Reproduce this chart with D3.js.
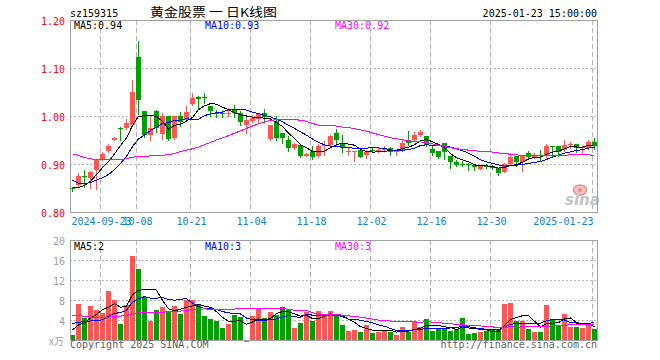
<!DOCTYPE html>
<html><head><meta charset="utf-8">
<script src="https://cdn.jsdelivr.net/npm/d3@7"></script>
<style>
body{margin:0;background:#fff}
svg{display:block}
text{font-family:"DejaVu Sans Mono","Liberation Mono",monospace;font-size:10px}
</style>
</head><body>
<svg id="chart" width="660" height="360"></svg>
<script>
// ---------- data ----------
const symbol = "sz159315";
const titleText = "黄金股票 一 日K线图";
const dateTime = "2025-01-23 15:00:00";

const opens  = [0.851,0.856,0.876,0.870,0.888,0.910,0.927,0.950,0.976,0.974,
                0.981,1.122,1.010,0.960,1.010,0.962,0.999,0.954,0.999,0.992,
                1.025,1.039,1.039,1.021,1.007,1.007,1.006,1.015,1.006,0.981,
                0.990,0.994,1.006,0.953,0.990,0.964,0.950,0.934,0.939,0.917,
                0.924,0.917,0.938,0.940,0.965,0.943,0.924,0.927,0.929,0.919,
                0.929,0.9285,0.929,0.933,0.924,0.930,0.950,0.950,0.960,0.959,
                0.932,0.927,0.943,0.917,0.904,0.900,0.901,0.897,0.890,0.896,
                0.896,0.891,0.884,0.900,0.917,0.905,0.922,0.916,0.919,0.917,
                0.938,0.9375,0.929,0.940,0.942,0.933,0.934,0.9465];
const highs  = [0.852,0.881,0.888,0.885,0.910,0.926,0.942,0.957,0.977,0.994,
                1.076,1.156,1.010,0.997,1.012,1.006,1.001,1.000,1.009,1.021,
                1.047,1.042,1.047,1.021,1.012,1.012,1.016,1.023,1.010,0.999,
                1.002,1.007,1.015,0.981,1.000,0.964,0.958,0.943,0.939,0.923,
                0.938,0.942,0.948,0.960,0.972,0.960,0.933,0.928,0.930,0.929,
                0.935,0.936,0.938,0.935,0.930,0.951,0.968,0.967,0.971,0.959,
                0.937,0.927,0.943,0.917,0.908,0.907,0.902,0.898,0.897,0.901,
                0.898,0.891,0.903,0.922,0.917,0.917,0.927,0.922,0.929,0.942,
                0.938,0.938,0.949,0.9465,0.942,0.937,0.951,0.9535];
const lows   = [0.843,0.855,0.853,0.851,0.848,0.909,0.926,0.949,0.951,0.973,
                0.979,1.005,0.956,0.951,0.967,0.953,0.951,0.952,0.980,0.990,
                1.023,1.016,1.028,1.000,0.998,0.997,1.000,0.997,0.981,0.965,
                0.988,0.988,0.992,0.949,0.951,0.944,0.928,0.931,0.915,0.916,
                0.910,0.915,0.919,0.938,0.940,0.924,0.919,0.907,0.914,0.913,
                0.926,0.924,0.927,0.919,0.919,0.927,0.940,0.947,0.959,0.938,
                0.919,0.912,0.910,0.891,0.895,0.895,0.888,0.887,0.889,0.891,
                0.889,0.877,0.883,0.898,0.896,0.886,0.912,0.912,0.908,0.915,
                0.917,0.917,0.927,0.934,0.926,0.922,0.932,0.931];
const closes = [0.848,0.875,0.875,0.883,0.908,0.921,0.938,0.955,0.972,0.985,
                1.051,1.033,0.960,0.976,0.976,0.999,0.953,0.999,0.987,1.009,
                1.037,1.035,1.038,1.010,1.004,1.006,1.007,1.007,0.988,0.992,
                0.995,1.004,0.997,0.981,0.954,0.955,0.934,0.942,0.917,0.921,
                0.915,0.938,0.940,0.958,0.949,0.933,0.928,0.928,0.915,0.925,
                0.9285,0.929,0.934,0.924,0.929,0.944,0.943,0.960,0.967,0.940,
                0.922,0.915,0.926,0.905,0.897,0.899,0.897,0.893,0.896,0.8955,
                0.891,0.882,0.900,0.915,0.905,0.917,0.915,0.917,0.917,0.9375,
                0.937,0.926,0.940,0.941,0.933,0.936,0.9465,0.9375];
// volume, 万手
const volumes = [0.93,7.3,4.5,6.9,6.1,5.5,9.8,8.1,3.3,7.1,
                 16.9,14.3,8.7,3.9,6.1,6.7,5.7,6.9,5.3,8.1,
                 8.1,7.3,4.9,4.3,3.7,2.5,3.3,5.1,4.7,0.1,
                 4.8,6.3,4.5,5.7,5.1,6.7,6.1,2.5,3.5,5.7,
                 3.7,5.9,4.9,5.9,5.0,3.0,1.8,2.0,1.6,3.0,
                 1.4,1.7,2.1,1.6,1.0,2.6,1.6,3.8,2.6,4.2,
                 1.8,2.3,2.3,1.8,2.3,4.4,1.2,1.4,1.6,1.8,
                 2.0,2.0,7.3,7.4,3.8,3.8,2.2,1.6,1.6,7.0,
                 4.2,3.0,5.2,2.6,2.6,2.4,3.5,2.2];
// 29 sessions before the window (only visible through the moving averages)
const prevCloses = [0.990,0.990,0.968,0.953,0.936,0.9375,0.955,0.966,0.934,0.946,
                    0.988,0.945,0.961,0.961,0.969,0.923,0.909,0.882,0.919,0.947,
                    0.935,0.887,0.858,0.857,0.875,0.868,0.855,0.840,0.838];
const prevVolumes = [8.8,9.0,11.4,9.1,5.5,6.8,3.6,1.8,2.6,7.9,
                     8.3,7.2,3.9,4.6,5.2,4.2,3.9,3.8,3.6,3.6,
                     5.3,2.5,5.9,5.1,4.2,2.3,2.5,2.2,2.1];

const maPeriods = [5, 10, 30];
const priceLegendValues = ["0.94", "0.93", "0.92"];
const volumeLegendValues = ["2", "3", "3"];

const priceTicks = [1.20, 1.10, 1.00, 0.90, 0.80];
const priceGrid = [1.10, 1.00, 0.90];
const volumeTicks = [20, 16, 12, 8, 4];
const volumeGrid = [16, 12, 8, 4];
const dateTickIndex = [5, 11, 20, 30, 40, 50, 60, 70, 87];
const dateTickLabels = ["2024-09-23","10-08","10-21","11-04","11-18","12-02","12-16","12-30","2025-01-23"];

// ---------- styles ----------
const RED = "#ff5555", GREEN = "#00a000";
const maColors = ["#000000", "#0000ff", "#ff00ff"];
const GRID = "#b4b4b4", BORDER = "#a0a0a0";

// ---------- layout ----------
const L = 70, R = 597;
const P = {top: 20, bottom: 212};
const V = {top: 240, bottom: 340};
const n = closes.length;

const svg = d3.select("#chart");
const x = d3.scaleLinear().domain([0, n]).range([L, L + 6 * n]);
const yP = d3.scaleLinear().domain([0.8, 1.2]).range([P.bottom, P.top]);
const yV = d3.scaleLinear().domain([0, 20]).range([V.bottom, V.top]);
const cx = i => x(i) + 2.5;

function movingAvg(prev, cur, k) {
  const all = prev.concat(cur), off = prev.length;
  return cur.map((_, i) => d3.mean(all.slice(off + i - k + 1, off + i + 1)));
}

// ---------- grids ----------
function grids(g, yScale, gridVals, top, bottom) {
  g.selectAll(".hg").data(gridVals).join("line")
    .attr("x1", L).attr("x2", R)
    .attr("y1", d => Math.round(yScale(d)) + 0.5).attr("y2", d => Math.round(yScale(d)) + 0.5)
    .attr("stroke", GRID).attr("stroke-dasharray", "2,2").attr("shape-rendering", "crispEdges");
  g.selectAll(".vg").data(dateTickIndex).join("line")
    .attr("x1", d => x(d) + 0.5).attr("x2", d => x(d) + 0.5)
    .attr("y1", top).attr("y2", bottom)
    .attr("stroke", GRID).attr("stroke-dasharray", "5,3").attr("shape-rendering", "crispEdges");
}
grids(svg.append("g"), yP, priceGrid, P.top, P.bottom);
grids(svg.append("g"), yV, volumeGrid, V.top, V.bottom);

// ---------- sina watermark ----------
const wm = svg.append("g");
wm.append("ellipse").attr("cx", 580).attr("cy", 190).attr("rx", 6.5).attr("ry", 5)
  .attr("fill", "#f4c4c4").attr("stroke", "#e59090").attr("stroke-width", 1.5);
wm.append("circle").attr("cx", 580).attr("cy", 190).attr("r", 2).attr("fill", "#e59090");
wm.append("text").attr("x", 565).attr("y", 205).text("sina")
  .style("font-family", "'DejaVu Sans',sans-serif").style("font-size", "15px")
  .style("font-style", "italic").style("font-weight", "bold").attr("fill", "#c4c4c4");

// ---------- candles ----------
const cg = svg.append("g").attr("shape-rendering", "crispEdges");
const idx = d3.range(n);
const up = i => closes[i] >= opens[i];
cg.selectAll(".wick").data(idx).join("line")
  .attr("x1", cx).attr("x2", cx)
  .attr("y1", i => Math.round(yP(highs[i]))).attr("y2", i => Math.round(yP(lows[i])) + 1)
  .attr("stroke", i => up(i) ? RED : GREEN);
cg.selectAll(".body").data(idx).join("rect")
  .attr("x", i => x(i)).attr("width", 5)
  .attr("y", i => Math.round(yP(Math.max(opens[i], closes[i]))))
  .attr("height", i => Math.max(1, Math.round(yP(Math.min(opens[i], closes[i]))) - Math.round(yP(Math.max(opens[i], closes[i])))))
  .attr("fill", i => up(i) ? RED : GREEN);

// ---------- volume bars ----------
const vg = svg.append("g").attr("shape-rendering", "crispEdges");
vg.selectAll("rect").data(idx).join("rect")
  .attr("x", i => x(i)).attr("width", 5)
  .attr("y", i => { const t = Math.round(yV(volumes[i])); return (V.bottom - t) < 1 ? V.bottom : t; })
  .attr("height", i => { const t = Math.round(yV(volumes[i])); return (V.bottom - t) < 1 ? 2 : V.bottom - t; })
  .attr("fill", i => up(i) ? RED : GREEN);

// ---------- moving averages ----------
maPeriods.forEach((k, j) => {
  const mp = movingAvg(prevCloses, closes, k);
  const mv = movingAvg(prevVolumes, volumes, k);
  svg.append("path").datum(mp)
    .attr("d", d3.line().x((d, i) => cx(i)).y(d => yP(d)))
    .attr("fill", "none").attr("stroke", maColors[j]).attr("stroke-width", 1)
    .attr("shape-rendering", "crispEdges");
  svg.append("path").datum(mv)
    .attr("d", d3.line().x((d, i) => cx(i)).y(d => yV(d)))
    .attr("fill", "none").attr("stroke", maColors[j]).attr("stroke-width", 1)
    .attr("shape-rendering", "crispEdges");
});

// ---------- borders ----------
[P, V].forEach(b => {
  svg.append("rect").attr("x", L + 0.5).attr("y", b.top + 0.5)
    .attr("width", R - L).attr("height", b.bottom - b.top)
    .attr("fill", "none").attr("stroke", BORDER).attr("shape-rendering", "crispEdges");
});

// ---------- axes ----------
const ay = svg.append("g").attr("transform", `translate(${L},0)`)
  .call(d3.axisLeft(yP).tickValues(priceTicks).tickFormat(d3.format(".2f")).tickSize(0).tickPadding(5));
ay.select(".domain").remove();
ay.selectAll("text").attr("fill", "#ff0000").style("font-size", "10px").style("font-family", "'DejaVu Sans Mono',monospace").attr("dy", "0.4em");

const av = svg.append("g").attr("transform", `translate(${L},0)`)
  .call(d3.axisLeft(yV).tickValues(volumeTicks).tickFormat(d3.format("d")).tickSize(0).tickPadding(5));
av.select(".domain").remove();
av.selectAll("text").attr("fill", "#a0a0a0").style("font-size", "10px").style("font-family", "'DejaVu Sans Mono',monospace").attr("dy", "0.4em");
svg.append("text").attr("x", 64).attr("y", 345).attr("text-anchor", "end")
  .attr("fill", "#a0a0a0").text("x万")
  .style("font-family", "'Noto Sans CJK SC','DejaVu Sans Mono',monospace").style("font-size", "10px");

const ax = svg.append("g").attr("transform", `translate(0,${P.bottom})`)
  .call(d3.axisBottom(x).tickValues(dateTickIndex)
        .tickFormat((d, i) => dateTickLabels[i]).tickSize(0).tickPadding(6));
ax.select(".domain").remove();
ax.selectAll("text").attr("fill", "#1183d2").style("font-size", "10px").style("font-family", "'DejaVu Sans Mono',monospace")
  .attr("text-anchor", (d, i) => i === dateTickIndex.length - 1 ? "end" : "middle")
  .attr("x", 1);

// ---------- header & legends ----------
svg.append("text").attr("x", 70).attr("y", 17).text(symbol);
svg.append("text").attr("x", 150).attr("y", 17).text(titleText)
  .attr("textLength", 127).attr("lengthAdjust", "spacingAndGlyphs")
  .style("font-family", "'Noto Sans CJK SC',sans-serif").style("font-size", "12px");
svg.append("text").attr("x", 597).attr("y", 17).attr("text-anchor", "end").text(dateTime);

const legendX = [74, 205, 335];
maPeriods.forEach((k, j) => {
  svg.append("text").attr("x", legendX[j]).attr("y", 29).attr("fill", maColors[j])
    .text(`MA${k}:${priceLegendValues[j]}`);
  svg.append("text").attr("x", legendX[j]).attr("y", 250).attr("fill", maColors[j])
    .text(`MA${k}:${volumeLegendValues[j]}`);
});

svg.append("text").attr("x", 70).attr("y", 348).attr("fill", "#606060").text("Copyright 2025 SINA.COM");
svg.append("text").attr("x", 597).attr("y", 348).attr("text-anchor", "end").attr("fill", "#606060")
  .text("http://finance.sina.com.cn");
</script>
</body></html>
